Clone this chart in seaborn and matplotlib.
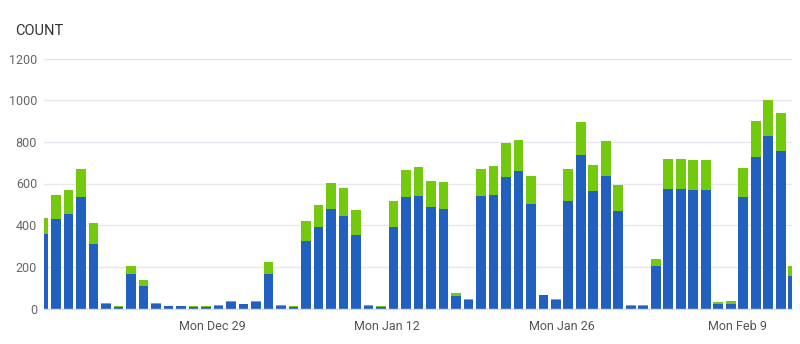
import matplotlib
matplotlib.use("Agg")
import matplotlib.pyplot as plt
import numpy as np
import pandas as pd
import seaborn as sns

# ---- data ----
dates = pd.date_range("2025-12-15", "2026-02-13", freq="D")
blue_vals = [360, 430, 456, 536, 310, 24, 6, 168, 106, 24, 10, 10, 6, 6, 14, 29, 21, 29, 168, 14, 5,
             326, 389, 480, 442, 355, 14, 5, 392, 533, 542, 485, 480, 62, 43, 542, 547, 629, 658, 504,
             64, 43, 514, 739, 562, 638, 470, 14, 14, 206, 574, 574, 571, 571, 24, 24, 533, 725, 826,
             754, 154]
green_vals = [75, 116, 114, 134, 101, 3, 4, 37, 32, 3, 4, 4, 4, 4, 5, 5, 3, 5, 53, 5, 5,
              96, 109, 123, 137, 119, 5, 5, 125, 134, 135, 128, 128, 13, 3, 128, 139, 166, 152, 134,
              3, 3, 156, 157, 128, 167, 124, 5, 5, 34, 144, 144, 143, 143, 5, 10, 142, 176, 177,
              185, 48]
tick_dates = ["2025-12-29", "2026-01-12", "2026-01-26", "2026-02-09"]
tick_labels = ["Mon Dec 29", "Mon Jan 12", "Mon Jan 26", "Mon Feb 9"]
y_ticks = [0, 200, 400, 600, 800, 1000, 1200]

df = pd.DataFrame({
    "day": dates.strftime("%Y-%m-%d"),
    "blue": blue_vals,
    "green": green_vals,
})
df["total"] = df["blue"] + df["green"]

BLUE = "#2260BF"
GREEN = "#73C90E"

sns.set_style("white")
plt.rcParams["font.family"] = ["Roboto", "DejaVu Sans"]

fig = plt.figure(figsize=(8, 3.44), dpi=100)
ax = fig.add_axes([44 / 800, 1 - 308.5 / 344, (792 - 44) / 800, 250 / 344])

order = list(df["day"])
sns.barplot(data=df, x="day", y="total", order=order, color=GREEN, saturation=1,
            width=0.78, ax=ax, linewidth=0, zorder=2)
sns.barplot(data=df, x="day", y="blue", order=order, color=BLUE, saturation=1,
            width=0.78, ax=ax, linewidth=0, zorder=3)

ax.set_xlim(0.03, 59.9)
ax.set_ylim(0, 1200)
ax.set_yticks(y_ticks)
ax.set_yticklabels([str(v) for v in y_ticks])
tick_pos = [order.index(d) - 0.5 for d in tick_dates]
ax.set_xticks(tick_pos)
ax.set_xticklabels(tick_labels)

ax.set_xlabel("")
ax.set_ylabel("")
ax.grid(axis="y", color="#e6e8f0", linewidth=1.0, zorder=0)
ax.set_axisbelow(True)
for s in ["top", "right", "left"]:
    ax.spines[s].set_visible(False)
ax.spines["bottom"].set_color("#dadce0")
ax.spines["bottom"].set_linewidth(1.0)
ax.spines["bottom"].set_zorder(4)

ax.tick_params(axis="y", length=0, pad=5, labelsize=9, labelcolor="#666666")
ax.tick_params(axis="x", length=5, width=1, color="#dadce0", pad=3,
               labelsize=9, labelcolor="#555555")

fig.text(15 / 800, 1 - 31 / 344, "COUNT", fontsize=10.5, color="#333333",
         ha="left", va="center")

fig.savefig("out.png", dpi=100)
